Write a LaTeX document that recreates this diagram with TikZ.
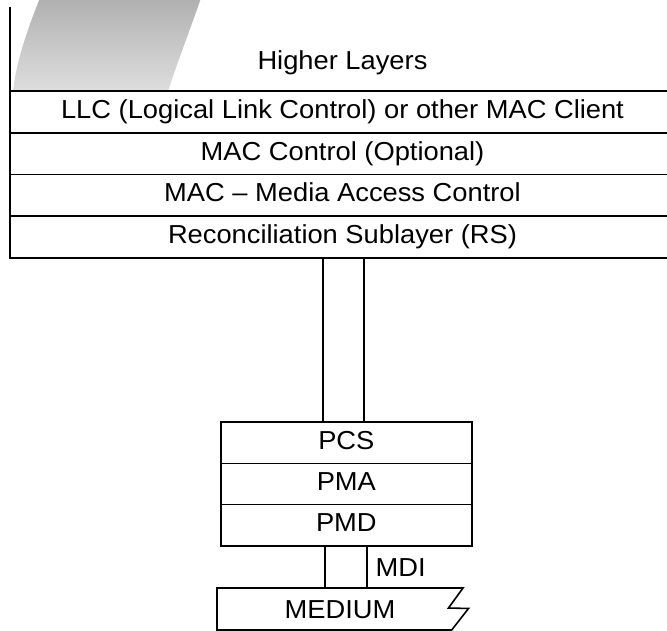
\documentclass[tikz,border=0pt]{standalone}
\usepackage{fontspec}
\setmainfont{Liberation Sans}[FakeStretch=1.05]
\usetikzlibrary{positioning}
\def\stackwidth{665pt}
\def\rowheight{41.75pt}
\def\phywidth{250.7pt}
\def\phyheight{41.3pt}
\definecolor{shadeTop}{gray}{0.69}
\definecolor{shadeBot}{gray}{0.87}

\begin{document}
\begin{tikzpicture}[x=1pt,y=-1pt,line width=1.6pt,node distance=0pt]
    \tikzstyle{every node}=[font=\fontsize{26}{30}\selectfont,inner sep=0pt]
    \tikzstyle{layer}=[rectangle,draw=black,outer sep=0pt,text height=19pt,text depth=6pt]
    \tikzstyle{upper layer}=[layer,minimum width=\stackwidth,minimum height=\rowheight]
    \tikzstyle{phy layer}=[layer,minimum width=\phywidth,minimum height=\phyheight]
    \tikzstyle{medium}=[rectangle,outer sep=0pt,minimum width=246pt,minimum height=42pt,text height=22pt,text depth=3.5pt]
    \useasboundingbox (0,0) rectangle (667,631);

    % Draw the grey arc behind the higher layers
    \shade[top color=shadeTop,bottom color=shadeBot]
        (40,-2) .. controls (25,35) and (16,65) .. (13,91)
        -- (168,91) .. controls (180,55) and (190,30) .. (201,-2) -- cycle;

    % Draw the upper layers
    \node[anchor=base] (higher) at (342.5,70) {Higher Layers};
    \node[upper layer] (llc) at (342.5,111.875) {LLC (Logical Link Control) or other MAC Client};
    \node[upper layer,below=of llc] (macctl) {MAC Control (Optional)};
    \node[upper layer,below=of macctl] (mac) {MAC – Media Access Control};
    \node[upper layer,below=of mac] (rs) {Reconciliation Sublayer (RS)};
    \coordinate (stacktop) at (10,7);
    \draw (stacktop) -- (llc.north west);

    % Draw the physical layers
    \node[phy layer] (pcs) at (346.35,442.65) {PCS};
    \node[phy layer,below=of pcs] (pma) {PMA};
    \node[phy layer,below=of pma] (pmd) {PMD};

    % Draw the interface between RS and PCS
    \coordinate (rsL) at (322.7,258);
    \coordinate (rsR) at (364,258);
    \draw (rsL) -- (rsL |- pcs.north);
    \draw (rsR) -- (rsR |- pcs.north);

    % Draw the medium and the MDI
    \node[medium] (medium) at (340,609) {MEDIUM};
    \draw (medium.north west) -- (medium.north east) -- ++(-14.5,20) -- ++(20,0.5)
        -- ++(-16.8,21.5) -- (medium.south west) -- cycle;
    \coordinate (mdiL) at (325,546);
    \coordinate (mdiR) at (366.7,546);
    \draw (mdiL) -- (mdiL |- medium.north);
    \draw (mdiR) -- (mdiR |- medium.north);
    \node[anchor=base west] (mdi) at (374.8,576.7) {MDI};
\end{tikzpicture}
\end{document}
